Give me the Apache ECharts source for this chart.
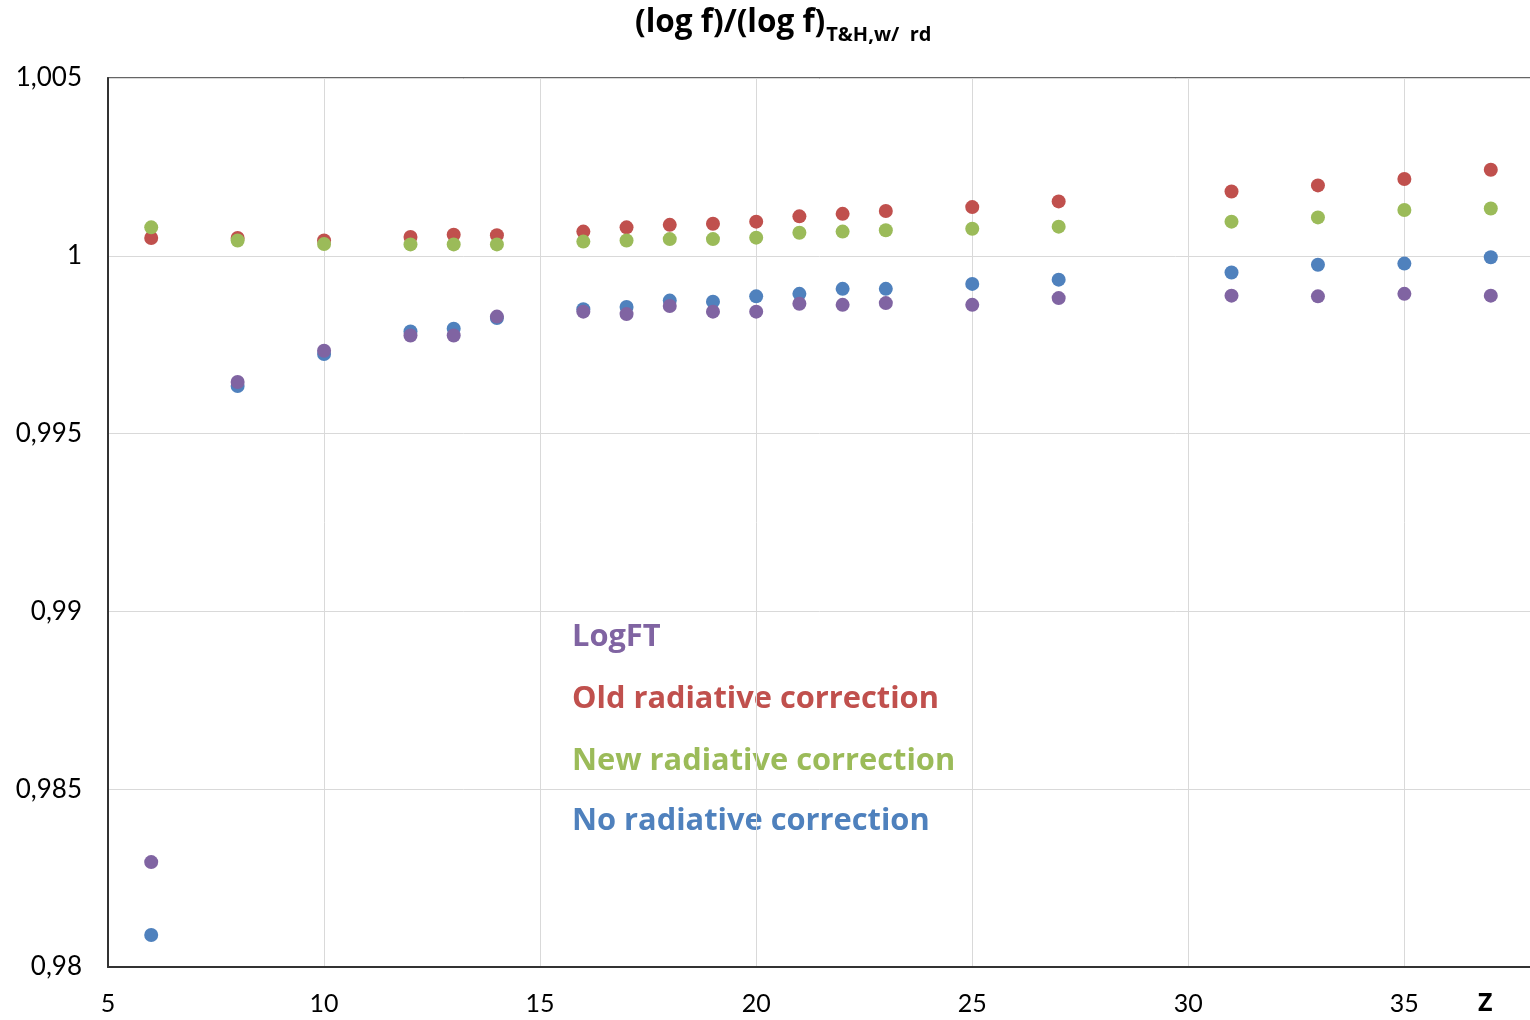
<!DOCTYPE html>
<html>
<head>
<meta charset="utf-8">
<script src="https://cdn.jsdelivr.net/npm/echarts@6/dist/echarts.min.js"></script>
<style>html,body{margin:0;padding:0;background:#fff}#c{width:1530px;height:1020px}</style>
</head>
<body>
<div id="c"></div>
<script>
const zValues = [6, 8, 10, 12, 13, 14, 16, 17, 18, 19, 20, 21, 22, 23, 25, 27, 31, 33, 35, 37];
const oldRad = [1.0005, 1.0005, 1.00043, 1.00053, 1.00059, 1.00058, 1.00068, 1.0008, 1.00087, 1.0009, 1.00096, 1.00111, 1.00118, 1.00126, 1.00137, 1.00153, 1.00181, 1.00198, 1.00216, 1.00242];
const newRad = [1.0008, 1.00043, 1.00033, 1.00032, 1.00032, 1.00032, 1.0004, 1.00043, 1.00047, 1.00047, 1.00051, 1.00065, 1.00068, 1.00072, 1.00076, 1.00082, 1.00096, 1.00108, 1.00129, 1.00133];
const noRad = [0.9809, 0.99634, 0.99724, 0.99787, 0.99795, 0.99825, 0.9985, 0.99856, 0.99874, 0.99871, 0.99886, 0.99893, 0.99907, 0.99907, 0.99921, 0.99933, 0.99953, 0.99975, 0.99978, 0.99996];
const logFT = [0.98295, 0.99645, 0.99733, 0.99776, 0.99776, 0.99829, 0.99843, 0.99836, 0.99859, 0.99843, 0.99843, 0.99865, 0.99862, 0.99867, 0.99862, 0.99881, 0.99888, 0.99886, 0.99893, 0.99888];
const seriesNames = ['LogFT', 'Old radiative correction', 'New radiative correction', 'No radiative correction'];
const seriesColors = ['#8064A2', '#C0504D', '#9BBB59', '#4F81BD'];

const FONT = 'Lato';
const BFONT = 'Open Sans';
const pair = (ys) => zValues.map((z, i) => [z, ys[i]]);
const chart = echarts.init(document.getElementById('c'), null, {renderer: 'canvas'});

const mk = (name, color, data, z) => ({
  name, type: 'scatter', data: pair(data), symbolSize: 14, z,
  itemStyle: {color, opacity: 1}, animation: false
});

chart.setOption({
  animation: false,
  backgroundColor: '#fff',
  textStyle: {fontFamily: FONT},
  grid: {left: 108, top: 78, width: 1426, height: 889, show: true, borderColor: '#333', borderWidth: 1.5,
    containLabel: false, outerBoundsMode: 'none'},
  xAxis: {
    type: 'value', min: 5, max: 38, interval: 5,
    axisLine: {show: true, lineStyle: {color: '#333', width: 2}},
    axisTick: {show: false},
    splitLine: {show: true, lineStyle: {color: '#D9D9D9', width: 1}},
    axisLabel: {fontSize: 25, color: '#000', margin: 24, fontFamily: FONT,
      formatter: v => (v % 5 === 0 ? String(v) : '')}
  },
  yAxis: {
    type: 'value', min: 0.98, max: 1.005, interval: 0.005,
    axisLine: {show: true, lineStyle: {color: '#333', width: 2}},
    axisTick: {show: false},
    splitLine: {show: true, lineStyle: {color: '#D9D9D9', width: 1}},
    axisLabel: {fontSize: 26, color: '#000', margin: 26, fontFamily: FONT,
      formatter: v => String(Math.round(v * 1000) / 1000).replace('.', ',')}
  },
  title: {
    left: 630, top: -10,
    text: '{a|(log f)/(log f)}{b|T&H,w/  rd}',
    textStyle: {
      rich: {
        a: {fontSize: 31.5, fontWeight: 'bold', color: '#000', fontFamily: BFONT, verticalAlign: 'bottom', lineHeight: 44},
        b: {fontSize: 20, fontWeight: 'bold', color: '#000', fontFamily: BFONT, verticalAlign: 'bottom', lineHeight: 44, padding: [0, 0, -6, 1]}
      }
    }
  },
  graphic: [
    {type: 'text', left: 1478, top: 991, style: {text: 'Z', fontSize: 25, fontWeight: 'bold', fill: '#000', fontFamily: BFONT}},
    {type: 'text', left: 572, top: 622, style: {text: seriesNames[0], fontSize: 30.8, fontWeight: 'bold', fill: seriesColors[0], fontFamily: BFONT}},
    {type: 'text', left: 572, top: 684, style: {text: seriesNames[1], fontSize: 30.8, fontWeight: 'bold', fill: seriesColors[1], fontFamily: BFONT}},
    {type: 'text', left: 572, top: 746, style: {text: seriesNames[2], fontSize: 30.8, fontWeight: 'bold', fill: seriesColors[2], fontFamily: BFONT}},
    {type: 'text', left: 572, top: 806, style: {text: seriesNames[3], fontSize: 30.8, fontWeight: 'bold', fill: seriesColors[3], fontFamily: BFONT}}
  ],
  series: [
    mk(seriesNames[1], seriesColors[1], oldRad, 2),
    mk(seriesNames[2], seriesColors[2], newRad, 3),
    mk(seriesNames[3], seriesColors[3], noRad, 4),
    mk(seriesNames[0], seriesColors[0], logFT, 5)
  ]
});
</script>
</body>
</html>
